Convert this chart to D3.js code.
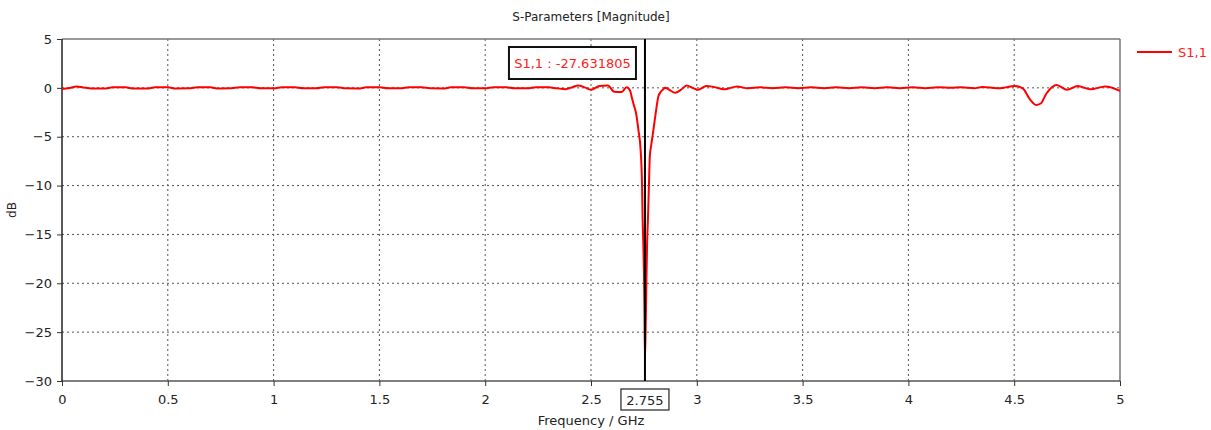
<!DOCTYPE html>
<html>
<head>
<meta charset="utf-8">
<script src="https://cdn.jsdelivr.net/npm/d3@7"></script>
<style>
  html, body { margin: 0; padding: 0; background: #fff; }
  text { font-family: "DejaVu Sans", sans-serif; }
</style>
</head>
<body>
<div id="chart"></div>
<script>
// S1,1 magnitude (GHz, dB)
const freqGHz = [
    0.00, 0.03, 0.07, 0.10, 0.14, 0.20, 0.24, 0.30, 0.34, 0.40,
    0.44, 0.50, 0.54, 0.60, 0.64, 0.70, 0.74, 0.80, 0.84, 0.90,
    0.94, 1.00, 1.04, 1.10, 1.14, 1.20, 1.24, 1.30, 1.34, 1.40,
    1.44, 1.50, 1.54, 1.60, 1.64, 1.70, 1.74, 1.80, 1.84, 1.90,
    1.94, 2.00, 2.04, 2.10, 2.14, 2.20, 2.24, 2.30, 2.34, 2.38,
    2.41, 2.44, 2.47, 2.50, 2.54, 2.58, 2.61, 2.645, 2.668, 2.685,
    2.692, 2.703, 2.713, 2.724, 2.735, 2.741, 2.744, 2.747, 2.750, 2.753,
    2.755, 2.758, 2.761, 2.765, 2.769, 2.774, 2.778, 2.785, 2.795, 2.808,
    2.818, 2.83, 2.842, 2.85, 2.87, 2.897, 2.925, 2.952, 2.98, 3.006,
    3.045, 3.08, 3.13, 3.19, 3.24, 3.30, 3.36, 3.42, 3.48, 3.54,
    3.60, 3.66, 3.72, 3.78, 3.84, 3.90, 3.96, 4.02, 4.08, 4.14,
    4.20, 4.25, 4.31, 4.35, 4.42, 4.46, 4.50, 4.54, 4.575, 4.603,
    4.625, 4.653, 4.70, 4.75, 4.80, 4.86, 4.93, 5.00
];
const s11dB = [
    -0.12, -0.05, 0.15, 0.05, -0.06, -0.06, 0.05, 0.05, -0.06, -0.06,
    0.05, 0.05, -0.06, -0.05, 0.06, 0.05, -0.06, -0.05, 0.05, 0.05,
    -0.05, -0.05, 0.06, 0.05, -0.05, -0.05, 0.05, 0.06, -0.05, -0.06,
    0.05, 0.05, -0.05, -0.05, 0.06, 0.05, -0.05, -0.06, 0.05, 0.05,
    -0.05, -0.05, 0.06, 0.05, -0.05, -0.05, 0.06, 0.05, -0.05, -0.13,
    0.05, 0.25, 0.05, -0.2, 0.2, 0.25, -0.4, -0.42, 0.05, -0.3,
    -0.9, -1.8, -2.6, -4.3, -6.5, -9.8, -13.5, -15.8, -18.5, -23,
    -27.631805, -25, -21, -16, -13.5, -9.8, -7.0, -5.8, -4.3, -2.25,
    -0.9, -0.4, -0.15, 0.02, -0.2, -0.5, -0.2, 0.25, 0.0, -0.2,
    0.2, 0.1, -0.15, 0.15, -0.05, 0.05, -0.05, 0.05, -0.05, 0.05,
    -0.05, 0.05, -0.05, 0.05, -0.05, 0.05, -0.05, 0.05, -0.05, 0.05,
    0.0, 0.05, -0.05, 0.1, -0.05, 0.05, 0.2, -0.05, -1.2, -1.75,
    -1.6, -0.55, 0.3, -0.2, 0.2, -0.15, 0.15, -0.3
];
const xTicks = [0, 0.5, 1, 1.5, 2, 2.5, 3, 3.5, 4, 4.5, 5];
const yTicks = [5, 0, -5, -10, -15, -20, -25, -30];
const markerFreq = 2.755;
const markerValue = -27.631805;
const seriesName = "S1,1";

const W = 1211, H = 430;
const margin = {top: 39, right: 91, bottom: 49, left: 62};
const width = W - margin.left - margin.right;
const height = H - margin.top - margin.bottom;

const svg = d3.select("#chart").append("svg")
    .attr("width", W)
    .attr("height", H);

const x = d3.scaleLinear().domain([0, 5]).range([0, width]);
const y = d3.scaleLinear().domain([-30, 5]).range([height, 0]);

const g = svg.append("g")
    .attr("transform", `translate(${margin.left},${margin.top})`);

// dotted grid
g.append("g")
    .selectAll("line")
    .data(xTicks.slice(1, -1))
    .join("line")
        .attr("x1", d => x(d)).attr("x2", d => x(d))
        .attr("y1", 0).attr("y2", height)
        .attr("stroke", "#555")
        .attr("stroke-dasharray", "2,3");
g.append("g")
    .selectAll("line")
    .data(yTicks.slice(1, -1))
    .join("line")
        .attr("x1", 0).attr("x2", width)
        .attr("y1", d => y(d)).attr("y2", d => y(d))
        .attr("stroke", "#555")
        .attr("stroke-dasharray", "2,3");

// frame: top/right grey, left/bottom darker
g.append("line").attr("x1", 0).attr("x2", width).attr("y1", 0).attr("y2", 0)
    .attr("stroke", "#777").attr("stroke-width", 1.5);
g.append("line").attr("x1", width).attr("x2", width).attr("y1", 0).attr("y2", height)
    .attr("stroke", "#777").attr("stroke-width", 1.5);

const xAxis = g.append("g")
    .attr("transform", `translate(0,${height})`)
    .call(d3.axisBottom(x).tickValues(xTicks).tickFormat(d3.format("")).tickSize(5).tickPadding(9));
const yAxis = g.append("g")
    .call(d3.axisLeft(y).tickValues(yTicks).tickFormat(d3.format("")).tickSize(5).tickPadding(5));

xAxis.select(".domain").attr("stroke", "#555").attr("stroke-width", 1.5);
yAxis.select(".domain").attr("stroke", "#222").attr("stroke-width", 1.5);
[xAxis, yAxis].forEach(a => {
    a.selectAll(".tick line").attr("stroke", "#333");
    a.selectAll(".tick text")
        .attr("fill", "#222")
        .style("font-size", "13px")
        .style("font-family", "DejaVu Sans, sans-serif");
});
xAxis.selectAll(".domain").attr("d", `M0,0H${width}`);
yAxis.selectAll(".domain").attr("d", `M0,${height}V0`);

// curve
const line = d3.line()
    .x(d => x(d[0]))
    .y(d => y(d[1]))
    .curve(d3.curveMonotoneX);

g.append("path")
    .datum(d3.zip(freqGHz, s11dB))
    .attr("fill", "none")
    .attr("stroke", "#ff0000")
    .attr("stroke-width", 2)
    .attr("d", line);

// marker line
g.append("line")
    .attr("x1", x(markerFreq)).attr("x2", x(markerFreq))
    .attr("y1", 0).attr("y2", height)
    .attr("stroke", "#000")
    .attr("stroke-width", 2);

// marker value box
const labelText = `${seriesName} : ${markerValue.toFixed(6)}`;
const lbl = g.append("g").attr("transform", `translate(${x(markerFreq) - 136},8)`);
lbl.append("rect")
    .attr("width", 127).attr("height", 32)
    .attr("fill", "#fff")
    .attr("stroke", "#111")
    .attr("stroke-width", 2);
lbl.append("text")
    .attr("x", 63.5).attr("y", 21)
    .attr("text-anchor", "middle")
    .attr("fill", "#ff2020")
    .style("font-size", "13px")
    .text(labelText);

// marker frequency box on the x axis
const fl = g.append("g").attr("transform", `translate(${x(markerFreq) - 24},${height + 8})`);
fl.append("rect")
    .attr("width", 48).attr("height", 21)
    .attr("fill", "#fff")
    .attr("stroke", "#333")
    .attr("stroke-width", 1.3);
fl.append("text")
    .attr("x", 24).attr("y", 15.5)
    .attr("text-anchor", "middle")
    .attr("fill", "#222")
    .style("font-size", "13px")
    .text(markerFreq);

// titles
svg.append("text")
    .attr("x", margin.left + width / 2).attr("y", 21)
    .attr("text-anchor", "middle")
    .attr("fill", "#222")
    .style("font-size", "12px")
    .text("S-Parameters [Magnitude]");
svg.append("text")
    .attr("x", margin.left + width / 2).attr("y", 425)
    .attr("text-anchor", "middle")
    .attr("fill", "#222")
    .style("font-size", "13px")
    .text("Frequency / GHz");
svg.append("text")
    .attr("transform", `translate(16,${margin.top + height / 2}) rotate(-90)`)
    .attr("text-anchor", "middle")
    .attr("fill", "#222")
    .style("font-size", "12px")
    .text("dB");

// legend
const leg = svg.append("g").attr("transform", `translate(${margin.left + width + 17},52)`);
leg.append("line").attr("x1", 0).attr("x2", 35).attr("y1", 0).attr("y2", 0)
    .attr("stroke", "#ff0000").attr("stroke-width", 2);
leg.append("text").attr("x", 41).attr("y", 5)
    .attr("fill", "#ff2020")
    .style("font-size", "13px")
    .text(seriesName);
</script>
</body>
</html>
